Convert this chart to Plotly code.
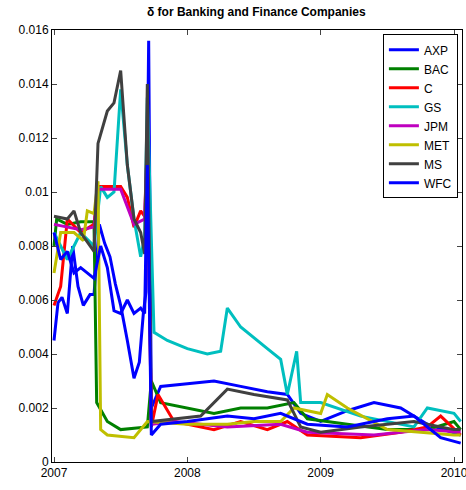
import plotly.graph_objects as go

names = ["AXP", "BAC", "C", "GS", "JPM", "MET", "MS", "WFC"]
colors = ["#0000ff", "#008000", "#ff0000", "#00bfbf", "#bf00bf", "#bfbf00", "#404040", "#0000ff"]
y_ticks = [0, 0.002, 0.004, 0.006, 0.008, 0.01, 0.012, 0.014, 0.016]
y_labels = ["0", "0.002", "0.004", "0.006", "0.008", "0.01", "0.012", "0.014", "0.016"]
x_ticks = [2007, 2008, 2009, 2010]

axp_x = [2007.0, 2007.03, 2007.06, 2007.1, 2007.14, 2007.18, 2007.22, 2007.27, 2007.3, 2007.34, 2007.38, 2007.42, 2007.46, 2007.5, 2007.55, 2007.6, 2007.64, 2007.67, 2007.69, 2007.71, 2007.73, 2007.8, 2008.0, 2008.2, 2008.4, 2008.6, 2008.75, 2008.85, 2009.0, 2009.2, 2009.4, 2009.6, 2009.8, 2010.0, 2010.05]
axp_y = [0.0045, 0.0059, 0.0061, 0.0055, 0.008, 0.0065, 0.0058, 0.0062, 0.0062, 0.0088, 0.0081, 0.0076, 0.0066, 0.0058, 0.0045, 0.0031, 0.0037, 0.0055, 0.0063, 0.0156, 0.002, 0.0028, 0.0029, 0.003, 0.0028, 0.0026, 0.0025, 0.0018, 0.0015, 0.0019, 0.0022, 0.002, 0.0014, 0.0011, 0.001]
bac_x = [2007.0, 2007.02, 2007.1, 2007.2, 2007.3, 2007.32, 2007.4, 2007.5, 2007.7, 2007.73, 2007.8, 2008.0, 2008.2, 2008.4, 2008.6, 2008.8, 2008.9, 2009.2, 2009.5, 2009.8, 2010.0, 2010.05]
bac_y = [0.008, 0.009, 0.0088, 0.0089, 0.0089, 0.0022, 0.0015, 0.0012, 0.0013, 0.003, 0.0022, 0.002, 0.0018, 0.002, 0.002, 0.0022, 0.0016, 0.0014, 0.0012, 0.0012, 0.0015, 0.0012]
c_x = [2007.0, 2007.05, 2007.1, 2007.2, 2007.3, 2007.33, 2007.5, 2007.55, 2007.6, 2007.65, 2007.68, 2007.7, 2007.73, 2007.78, 2007.9, 2008.2, 2008.4, 2008.6, 2008.75, 2008.9, 2009.3, 2009.6, 2009.8, 2009.9, 2010.05]
c_y = [0.0058, 0.0065, 0.009, 0.0085, 0.0088, 0.0102, 0.0102, 0.0098, 0.0087, 0.0093, 0.0091, 0.012, 0.0013, 0.0025, 0.0015, 0.0012, 0.0015, 0.0012, 0.0015, 0.001, 0.0009, 0.0011, 0.0013, 0.0017, 0.001]
gs_x = [2007.0, 2007.1, 2007.2, 2007.3, 2007.35, 2007.4, 2007.45, 2007.5, 2007.55, 2007.6, 2007.65, 2007.68, 2007.7, 2007.75, 2007.85, 2008.0, 2008.15, 2008.25, 2008.3, 2008.4, 2008.6, 2008.7, 2008.75, 2008.82, 2008.85, 2009.0, 2009.3, 2009.5, 2009.7, 2009.8, 2010.0, 2010.05]
gs_y = [0.0085, 0.0075, 0.0085, 0.008, 0.0102, 0.0098, 0.01, 0.0138, 0.011, 0.009, 0.0076, 0.0083, 0.0135, 0.0048, 0.0045, 0.0042, 0.004, 0.0041, 0.0057, 0.005, 0.0042, 0.0038, 0.0025, 0.0041, 0.0022, 0.0022, 0.0017, 0.0015, 0.0013, 0.002, 0.0018, 0.0015]
jpm_x = [2007.0, 2007.1, 2007.2, 2007.3, 2007.33, 2007.5, 2007.6, 2007.68, 2007.7, 2007.73, 2007.9, 2008.3, 2008.7, 2008.9, 2009.4, 2009.8, 2010.05]
jpm_y = [0.0088, 0.0087, 0.0086, 0.0087, 0.0101, 0.0101, 0.0088, 0.009, 0.0118, 0.0014, 0.0015, 0.0013, 0.0014, 0.0011, 0.001, 0.0012, 0.0011]
met_x = [2007.0, 2007.05, 2007.15, 2007.22, 2007.25, 2007.3, 2007.33, 2007.35, 2007.4, 2007.6, 2007.7, 2008.0, 2008.3, 2008.5, 2008.7, 2008.8, 2009.0, 2009.05, 2009.2, 2009.5, 2010.0, 2010.05]
met_y = [0.007, 0.0085, 0.0085, 0.0082, 0.0093, 0.0092, 0.0104, 0.0012, 0.001, 0.0009, 0.0015, 0.0014, 0.0014, 0.0015, 0.0015, 0.002, 0.0018, 0.0025, 0.002, 0.0012, 0.001, 0.001]
ms_x = [2007.0, 2007.1, 2007.15, 2007.2, 2007.3, 2007.33, 2007.4, 2007.45, 2007.5, 2007.55, 2007.6, 2007.65, 2007.68, 2007.7, 2007.73, 2007.9, 2008.1, 2008.3, 2008.5, 2008.75, 2008.85, 2009.0, 2009.3, 2009.7, 2010.0, 2010.05]
ms_y = [0.0091, 0.009, 0.0093, 0.0085, 0.0078, 0.0118, 0.013, 0.0133, 0.0145, 0.011, 0.009, 0.0085, 0.0077, 0.014, 0.0015, 0.0016, 0.0017, 0.0027, 0.0025, 0.0023, 0.0013, 0.0011, 0.0013, 0.0015, 0.0012, 0.0012]
wfc_x = [2007.0, 2007.05, 2007.1, 2007.15, 2007.2, 2007.3, 2007.35, 2007.4, 2007.45, 2007.5, 2007.55, 2007.6, 2007.65, 2007.68, 2007.7, 2007.73, 2007.8, 2008.0, 2008.3, 2008.5, 2008.7, 2008.9, 2009.2, 2009.5, 2009.7, 2009.9, 2010.05]
wfc_y = [0.0085, 0.0075, 0.0078, 0.007, 0.0072, 0.0068, 0.008, 0.0072, 0.0056, 0.0055, 0.006, 0.0055, 0.0057, 0.0055, 0.011, 0.001, 0.0014, 0.0015, 0.0017, 0.0016, 0.0018, 0.0014, 0.0013, 0.0016, 0.0017, 0.0009, 0.0007]

xs = [axp_x, bac_x, c_x, gs_x, jpm_x, met_x, ms_x, wfc_x]
ys = [axp_y, bac_y, c_y, gs_y, jpm_y, met_y, ms_y, wfc_y]

fig = go.Figure()
for n, c, x, y in zip(names, colors, xs, ys):
    fig.add_trace(go.Scatter(x=x, y=y, mode="lines", name=n, line=dict(color=c, width=3)))

axis = dict(showline=True, linecolor="black", linewidth=1, mirror="ticks", ticks="inside",
            ticklen=5, showgrid=False, zeroline=False, automargin=False,
            ticklabeloverflow="allow", tickfont=dict(size=12, color="black"))
fig.update_layout(
    width=466, height=490, plot_bgcolor="white", paper_bgcolor="white",
    font=dict(family="Liberation Sans, Arial, sans-serif", color="black"),
    title=dict(text="<b>δ for Banking and Finance Companies</b>", x=0.55, y=0.985, font=dict(size=12)),
    margin=dict(l=52, r=4, t=30, b=28, autoexpand=False),
    xaxis=dict(axis, range=[2006.985, 2010.06], tickvals=x_ticks, ticktext=[str(v) for v in x_ticks]),
    yaxis=dict(axis, range=[0, 0.016], tickvals=y_ticks, ticktext=y_labels),
    legend=dict(x=0.99, y=0.99, xanchor="right", yanchor="top", bordercolor="black", borderwidth=1,
                font=dict(size=12), tracegroupgap=0, bgcolor="white"),
)
fig.write_html("out.html", config={"displayModeBar": False})

# drop the default body margin so the 466px figure fits the window
with open("out.html") as f:
    html = f.read()
html = html.replace("<body>", '<body style="margin:0">', 1)
with open("out.html", "w") as f:
    f.write(html)
